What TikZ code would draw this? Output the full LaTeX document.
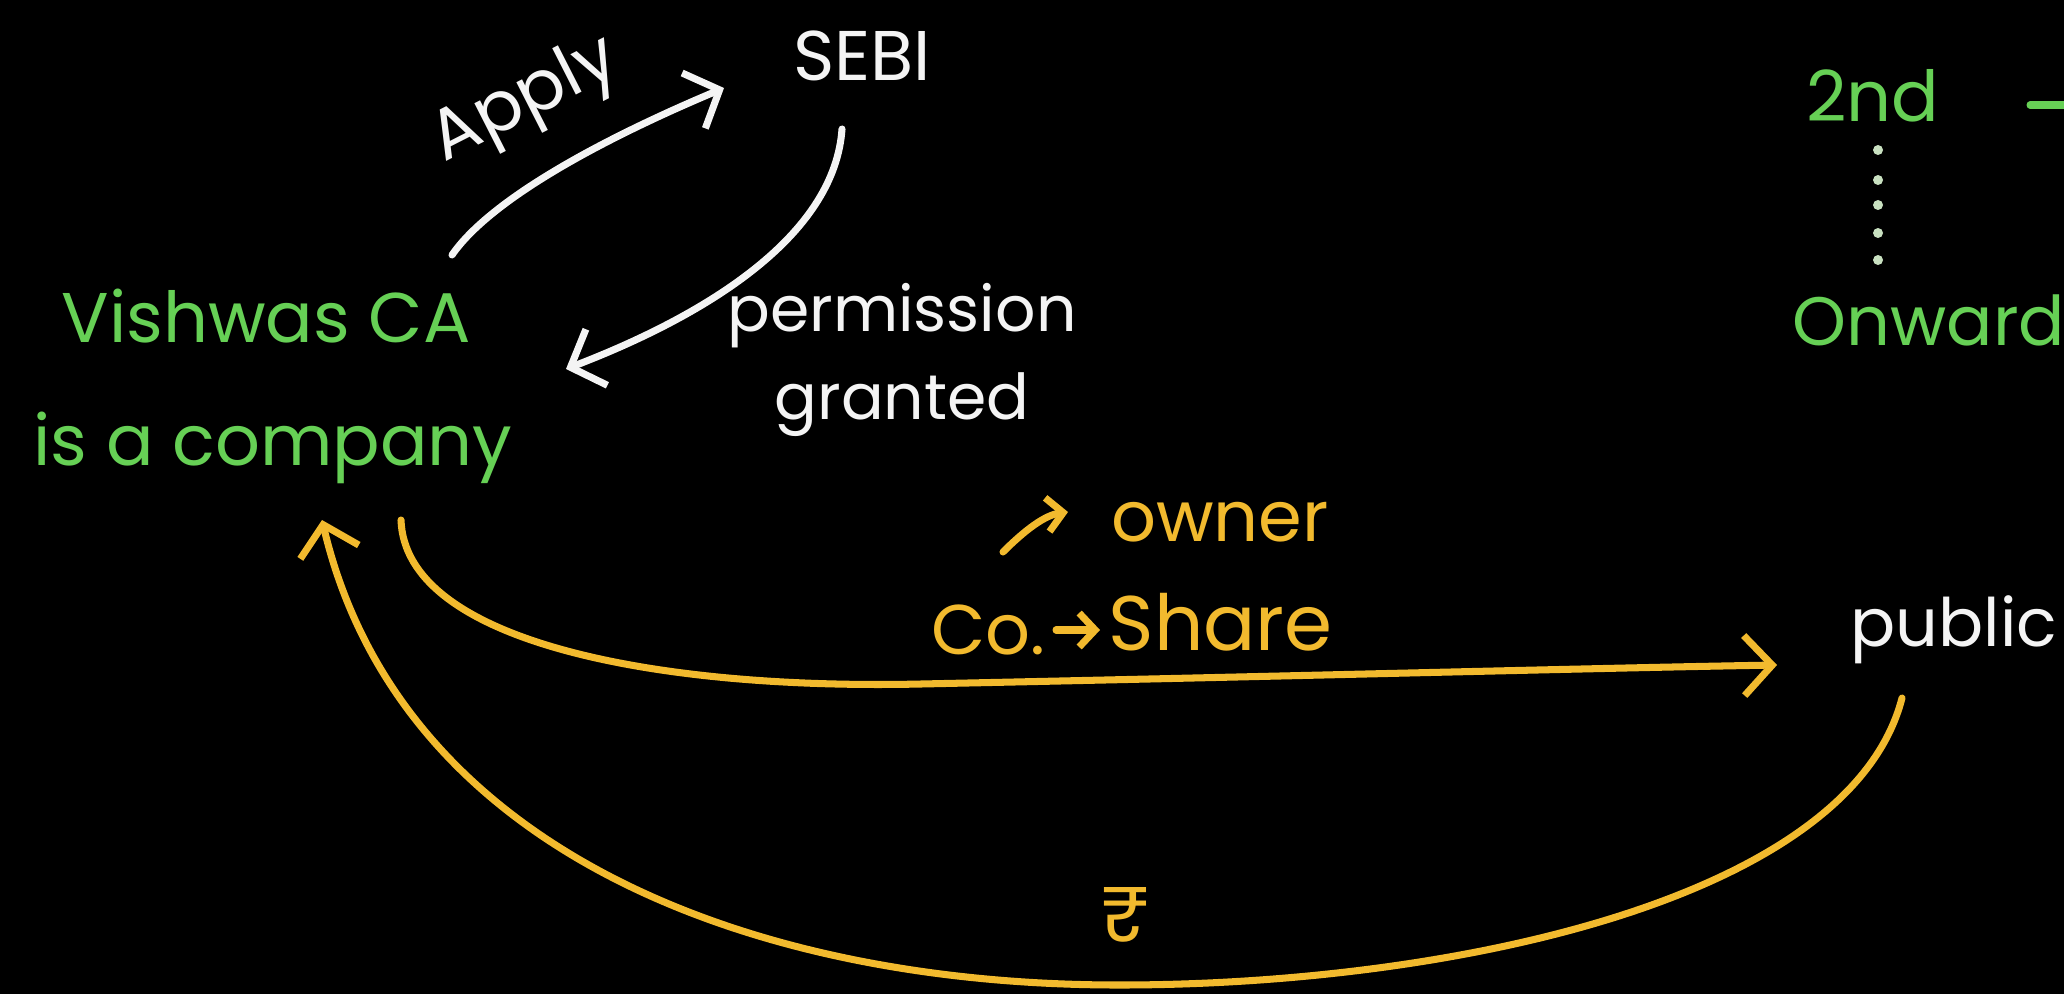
\documentclass[tikz,border=0pt]{standalone}
\usepackage{fontspec}
\setmainfont{Poppins}
\usetikzlibrary{arrows.meta}
\definecolor{chalkgreen}{HTML}{66D055}
\definecolor{chalkyellow}{HTML}{F2BA2E}
\definecolor{chalkwhite}{HTML}{F4F4F4}
\definecolor{dotgrey}{HTML}{C8E0C0}
\tikzset{
  lbl/.style={inner sep=0pt, font=\fontsize{20}{24}\selectfont},
  greentxt/.style={lbl, text=chalkgreen},
  whitetxt/.style={lbl, text=chalkwhite},
  yellowtxt/.style={lbl, text=chalkyellow},
  chalk/.style={line width=2pt, line cap=round, line join=round},
  barb/.style={-{Straight Barb[length=2.8mm,width=6mm]}},
  smallbarb/.style={-{Straight Barb[length=1.6mm,width=3.4mm]}},
}
\begin{document}
\begin{tikzpicture}[x=0.01cm, y=-0.01cm]
\fill[black] (0,0) rectangle (2064,994);
\useasboundingbox (0,0) rectangle (2064,994);
\clip (0,0) rectangle (2064,994);

% nodes
\node[greentxt] (vish) at (266,316) {Vishwas CA};
\node[greentxt] (comp) at (273,448) {is a company};
\node[whitetxt] (sebi) at (862,56) {SEBI};
\node[whitetxt, rotate=27] (apply) at (526,102) {Apply};
\node[whitetxt, align=center, font=\fontsize{18}{25}\selectfont] (perm) at (902,360) {permission\\granted};
\node[yellowtxt] (owner) at (1220,522) {owner};
\node[yellowtxt, anchor=east] (co) at (1046,630) {Co.};
\node[yellowtxt, anchor=west, font=\fontsize{22}{26}\selectfont] (share) at (1108,622) {Share};
\node[whitetxt, anchor=east, font=\fontsize{19}{24}\selectfont] (public) at (2058,630) {public};
\node[yellowtxt, font=\fontsize{22}{26}\selectfont] (rupee) at (1125,915) {₹};
\node[greentxt] (second) at (1873,96) {2nd};
\node[greentxt, anchor=west, font=\fontsize{19.5}{24}\selectfont] (onw) at (1792,320) {Onwards};

% coordinates for connector ends
\coordinate (applyS) at (452,255);
\coordinate (applyE) at (724,88);
\coordinate (permS) at (842,129);
\coordinate (permE) at (566,369);
\coordinate (shareS) at (401,520);
\coordinate (shareM) at (921,684);
\coordinate (shareE) at (1777,665);
\coordinate (moneyS) at (1902,698);
\coordinate (moneyM) at (1119,985);
\coordinate (moneyE) at (322,520);
\coordinate (hookS) at (1003,552);
\coordinate (hookE) at (1068,512);
\coordinate (coarrS) at (1056,630);
\coordinate (coarrE) at (1100,630);
\coordinate (grS) at (2030,105);
\coordinate (grE) at (2080,105);

% white arrows
\draw[chalk, chalkwhite, barb] (applyS) .. controls (490,200) and (600,140) .. (applyE);
\draw[chalk, chalkwhite, barb] (permS) .. controls (835,230) and (720,310) .. (permE);

% yellow arrows
\draw[chalk, chalkyellow, barb] (shareS) .. controls (405,640) and (650,690) .. (shareM)
  .. controls (1300,676) and (1600,668) .. (shareE);
\draw[chalk, chalkyellow, barb] (moneyS) .. controls (1850,900) and (1450,985) .. (moneyM)
  .. controls (750,985) and (400,850) .. (moneyE);

% small arrows in the labels
\draw[chalk, chalkyellow, smallbarb] (hookS) .. controls (1025,530) and (1045,515) .. (hookE);
\draw[chalk, chalkyellow, smallbarb] (coarrS) -- (coarrE);

% green arrow after 2nd (cut by the edge)
\draw[chalk, chalkgreen] (grS) -- (grE);

% dots between 2nd and Onwards
\foreach \yy in {150,180,205,233,260}
  \fill[dotgrey] (1878,\yy) circle (5);
\end{tikzpicture}
\end{document}
